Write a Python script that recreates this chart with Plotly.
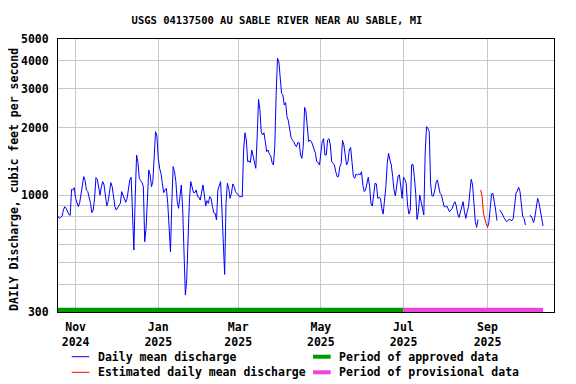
import math
import pandas as pd
import plotly.graph_objects as go

# ---------------- data ----------------
start_date = "2024-10-19"
n_days = 359

daily_mean = [
    805, 787, 795, 805, 858, 888, 873, 843, 820, 812,
    1062, 1055, 1080, 968, 935, 888, 925, 1002, 1111, 1211,
    1162, 1055, 1037, 985, 919, 835, 858, 968, 1198, 1178,
    1092, 1000, 1092, 1150, 1111, 1012, 894, 935, 1037, 1138,
    1092, 985, 888, 858, 879, 903, 919, 1037, 1002, 958,
    929, 968, 1073, 1170, 1203, 760, 568, 985, 1513, 1400,
    1190, 1162, 1138, 1092, 619, 711, 1055, 1296, 1232, 1092,
    1150, 1566, 1924, 1840, 1462, 1319, 1253, 1130, 1026, 1055,
    1073, 919, 723, 558, 919, 1341, 1274, 1150, 935, 873,
    985, 1111, 873, 585, 357, 420, 700, 951, 1150, 1100,
    1026, 1026, 1055, 985, 978, 951, 1019, 1111, 1002, 894,
    945, 919, 985, 968, 888, 835, 829, 774, 1055, 1111,
    1150, 858, 558, 442, 919, 1130, 1073, 968, 1019, 1123,
    1092, 1037, 1019, 1002, 985, 985, 985, 1593, 1902, 1766,
    1412, 1425, 1400, 1593, 1500, 1412, 1319, 1828, 2685, 2420,
    1924, 1860, 1902, 1736, 1566, 1593, 1527, 1500, 1400, 1365,
    1650, 2800, 4100, 3960, 3278, 2857, 2810, 2534, 2595, 2246,
    2155, 1957, 1815, 1766, 1736, 1677, 1648, 1718, 1718, 1513,
    1462, 1648, 2473, 2363, 2026, 1736, 1766, 1736, 1677, 1593,
    1539, 1412, 1400, 1365, 1513, 1736, 1790, 1513, 1513, 1766,
    1790, 1677, 1412, 1388, 1365, 1274, 1211, 1211, 1341, 1388,
    1760, 1677, 1462, 1365, 1412, 1593, 1635, 1341, 1211, 1190,
    1245, 1232, 1245, 1232, 1274, 1111, 1037, 1055, 1150, 1203,
    1092, 919, 894, 1019, 1130, 1123, 968, 978, 968, 873,
    823, 951, 1092, 1388, 1539, 1437, 1365, 1211, 1055, 992,
    1092, 1220, 1232, 1055, 968, 1203, 1178, 1130, 903, 823,
    858, 1365, 1375, 1211, 1019, 779, 843, 1002, 919, 873,
    815, 1539, 2026, 1990, 1924, 1130, 992, 992, 1044, 1138,
    1170, 1085, 1019, 1002, 935, 888, 888, 894, 867, 843,
    858, 873, 912, 935, 894, 823, 795, 835, 888, 935,
    843, 787, 843, 888, 1037, 1178, 1111, 858, 761, 718,
    779, None, None, None, None, None, None, 718, 754, 873,
    1012, 1019, 951, 858, 769, None, 858, 843, 823, 795,
    774, 761, 769, 779, 774, 769, 787, 903, 1019, 1044,
    1085, 1037, 903, 801, 787, 735, None, None, 808, 808,
    787, 754, 801, 903, 968, 925, 858, 801, 728,
]

estimated_dates = ["2025-08-27", "2025-08-28", "2025-08-29", "2025-08-30", "2025-08-31", "2025-09-01"]
estimated_values = [1055, 985, 829, 774, 748, 718]

approved_period = ["2024-10-19", "2025-07-01"]
provisional_period = ["2025-07-01", "2025-10-12"]
period_level = [306, 306]

x_tick_dates = ["2024-11-01", "2025-01-01", "2025-03-01", "2025-05-01", "2025-07-01", "2025-09-01"]
x_tick_text = ["Nov<br>2024", "Jan<br>2025", "Mar<br>2025", "May<br>2025", "Jul<br>2025", "Sep<br>2025"]
y_tick_vals = [300, 400, 500, 600, 700, 800, 900, 1000, 2000, 3000, 4000, 5000]
y_tick_text = ["300", "", "", "", "", "", "", "1000", "2000", "3000", "4000", "5000"]

title_text = "USGS 04137500 AU SABLE RIVER NEAR AU SABLE, MI"
y_title = "DAILY Discharge, cubic feet per second"
legend_items = [
    ("Daily mean discharge", "#0000ff", 1),
    ("Estimated daily mean discharge", "#ff0000", 1),
    ("Period of approved data", "#009900", 4),
    ("Period of provisional data", "#ee44dd", 4),
]

assert len(daily_mean) == n_days
dates = pd.date_range(start_date, periods=n_days, freq="D")

# ---------------- figure ----------------
# the page body adds an 8px offset, so the figure is sized/positioned to compensate
OFF = 8
W, H = 576 - OFF, 384 - OFF
L, R, T, B = 58 - OFF, 22, 39 - OFF, 72
FONT = "DejaVu Sans Mono"

fig = go.Figure()
fig.add_trace(go.Scatter(x=approved_period, y=period_level, mode="lines",
                         line=dict(color="#009900", width=4.5), showlegend=False, cliponaxis=False))
fig.add_trace(go.Scatter(x=provisional_period, y=period_level, mode="lines",
                         line=dict(color="#ee44dd", width=4.5), showlegend=False, cliponaxis=False))
fig.add_trace(go.Scatter(x=dates, y=daily_mean, mode="lines", connectgaps=False,
                         line=dict(color="#0000ff", width=1), showlegend=False))
fig.add_trace(go.Scatter(x=estimated_dates, y=estimated_values, mode="lines",
                         line=dict(color="#ff0000", width=1), showlegend=False))

fig.update_layout(
    width=W, height=H,
    margin=dict(l=L, r=R, t=T, b=B, autoexpand=False),
    paper_bgcolor="white", plot_bgcolor="white",
    font=dict(family=FONT, size=11.5, color="black", weight="bold"),
    title=dict(text=title_text, x=(277 - OFF) / W, xanchor="center", xref="container",
               y=1 - (20 - OFF) / H, yanchor="middle", yref="container",
               font=dict(family=FONT, size=10.5, color="black", weight="bold")),
)

fig.update_xaxes(
    type="date",
    range=["2024-10-19 00:00", "2025-10-20 02:00"],
    tickvals=x_tick_dates, ticktext=x_tick_text,
    showgrid=True, gridcolor="#c8c8c8", gridwidth=1,
    showline=True, linecolor="black", linewidth=1, mirror=True,
    ticks="", ticklabelstandoff=4, zeroline=False,
)
fig.update_yaxes(
    type="log",
    range=[math.log10(300), math.log10(5000)],
    tickvals=y_tick_vals, ticktext=y_tick_text,
    showgrid=True, gridcolor="#c8c8c8", gridwidth=1,
    showline=True, linecolor="black", linewidth=1, mirror=True,
    ticks="", ticklabelstandoff=6, zeroline=False,
)

# page pixel positions converted to paper coordinates
pw, ph = W - L - R, H - T - B
def px(x):
    return (x - OFF - L) / pw
def py(y):
    return (H - B - (y - OFF)) / ph

# y-axis title
fig.add_annotation(text=y_title, xref="paper", yref="paper", x=px(14), y=py(180),
                   xanchor="center", yanchor="middle", textangle=-90, showarrow=False,
                   borderpad=0,
                   font=dict(family=FONT, size=11.5, color="black", weight="bold"))

# manual legend
rows = [356.7, 372.3]
cols = [(71.7, 89.3, 95.7), (313, 330.7, 336.7)]
for i, (label, color, lw) in enumerate(legend_items):
    col = cols[i // 2]
    row = rows[i % 2]
    fig.add_shape(type="line", xref="paper", yref="paper",
                  x0=px(col[0]), x1=px(col[1]), y0=py(row), y1=py(row),
                  line=dict(color=color, width=lw))
    fig.add_annotation(text=label, xref="paper", yref="paper",
                       x=px(col[2]), y=py(row), xanchor="left", yanchor="middle",
                       showarrow=False, font=dict(family=FONT, size=11.5, color="black", weight="bold"))

fig.write_html("out.html")
